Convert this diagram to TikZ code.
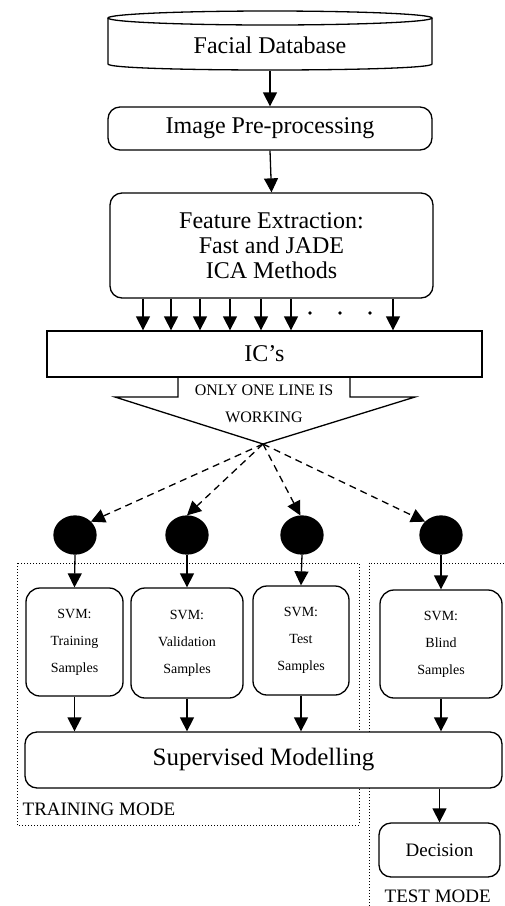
\documentclass[tikz,border=0pt]{standalone}
\usepackage{fontspec}
\setmainfont{Liberation Serif}
\usetikzlibrary{arrows.meta,shapes.geometric}

\begin{document}
\begin{tikzpicture}[x=1pt,y=-1pt,line width=1.3pt,
  arr/.style={-{Triangle[width=14pt,length=14pt]}},
  dasharr/.style={arr,dash pattern=on 7pt off 5pt},
  rbox/.style={draw,fill=white,rounded corners=12pt,inner sep=0pt,align=center},
  big/.style={font=\fontsize{24}{25}\selectfont},
  small/.style={font=\fontsize{14}{27}\selectfont},
  caps/.style={font=\fontsize{16}{27}\selectfont},
  mode/.style={font=\fontsize{19}{20}\selectfont,inner sep=0pt},
  blob/.style={ellipse,fill=black,draw=black,minimum width=42pt,minimum height=38pt,inner sep=0pt},
  region/.style={draw,dotted,line width=1pt}]
\useasboundingbox (0,0) rectangle (504,906);

% mode regions (behind everything else)
\draw[region] (17,563) rectangle (359,825);
\begin{scope}
  \clip (0,0) rectangle (504,906);
  \draw[region] (369,930) -- (369,563) -- (520,563);
\end{scope}

% database drum
\draw (270,18) ellipse [x radius=162pt,y radius=7pt];
\draw (108,18) -- (108,64) .. controls (108,72) and (432,72) .. (432,64) -- (432,18);
\node[minimum width=324pt,minimum height=59pt,inner sep=0pt] (db) at (270,41) {};
\node[big] (dbt) at (270,45) {Facial Database};

% processing chain
\node[rbox,big,minimum width=324pt,minimum height=43pt] (pre) at (270,128.5) {Image Pre-processing};
\node[rbox,big,minimum width=323pt,minimum height=105pt] (fe) at (271.5,245.5)
  {Feature Extraction:\\Fast and JADE\\ICA Methods};
\node[draw,big,minimum width=435pt,minimum height=46pt,inner sep=0pt] (ics) at (264.5,354) {IC’s};

\draw[arr] (db.south) -- (pre.north);
\draw[arr] (pre.south) -- (fe.north);
\foreach \xx in {143,171,200,230,261,291,393}
  \draw[arr] (fe.south -| \xx,0) -- (ics.north -| \xx,0);
\foreach \xx in {310,340,370}
  \fill (\xx,313) circle (1.8pt);

% selector arrow below the IC's
\draw (178,377) -- (178,397) -- (115,397) -- (263,444) -- (415,397) -- (350,397) -- (350,377);
\coordinate (apex) at (263,444);
\node[caps,align=center,inner sep=0pt] (only) at (264,404) {ONLY ONE LINE IS\\WORKING};

% branch points
\node[blob] (c1) at (75,535) {};
\node[blob] (c2) at (187,535) {};
\node[blob] (c3) at (302,535) {};
\node[blob] (c4) at (441,535) {};
\draw[dasharr] (apex) -- (c1.40);
\draw[dasharr] (apex) -- (c2.north);
\draw[dasharr] (apex) -- (c3.95);
\draw[dasharr] (apex) -- (c4.140);

% SVM stages
\node[rbox,small,minimum width=97pt,minimum height=108pt,rounded corners=14pt] (s1) at (74.5,642) {SVM:\\Training\\Samples};
\node[rbox,small,minimum width=112pt,minimum height=110pt,rounded corners=14pt] (s2) at (187,643) {SVM:\\Validation\\Samples};
\node[rbox,small,minimum width=96pt,minimum height=109pt,rounded corners=14pt] (s3) at (301,640.5) {SVM:\\Test\\Samples};
\node[rbox,small,minimum width=122pt,minimum height=108pt,rounded corners=14pt] (s4) at (441,644) {SVM:\\Blind\\Samples};

\draw[arr] (c1.south) -- (s1.north);
\draw[arr] (c2.south) -- (s2.north);
\draw[arr] (c3.south) -- (s3.north);
\draw[arr] (c4.south) -- (s4.north);

% modelling and decision
\node[rbox,font=\fontsize{25}{26}\selectfont,minimum width=477pt,minimum height=56pt] (sup) at (263.5,760) {Supervised Modelling};
\node[rbox,font=\fontsize{19}{20}\selectfont,minimum width=121pt,minimum height=54pt] (dec) at (439.5,850) {Decision};

\foreach \s in {s1,s2,s3,s4}
  \draw[arr] (\s.south) -- (\s.south |- sup.north);
\draw[arr] (sup.south -| dec.north) -- (dec.north);

% mode labels
\node[mode,anchor=base west] (trm) at (22,815) {TRAINING MODE};
\node[mode,anchor=base west] (tsm) at (384,902) {TEST MODE};
\end{tikzpicture}
\end{document}
